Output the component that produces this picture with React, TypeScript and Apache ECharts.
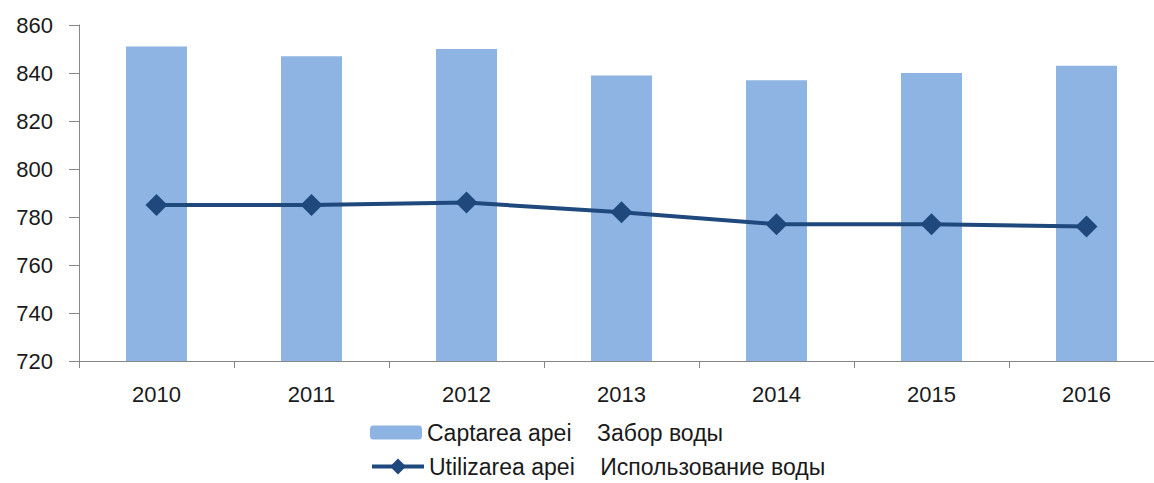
import React, { useEffect, useRef } from "react";
import * as echarts from "echarts";

const years = ["2010", "2011", "2012", "2013", "2014", "2015", "2016"];
const captarea = [851, 847, 850, 839, 837, 840, 843];
const utilizarea = [785, 785, 786, 782, 777, 777, 776];
const seriesNames = ["Captarea apei    Забор воды", "Utilizarea apei    Использование воды"];

export default function App() {
  const ref = useRef<HTMLDivElement>(null);
  useEffect(() => {
    if (!ref.current) return;
    const chart = echarts.init(ref.current, undefined, { renderer: "svg" });
    const font = "'Liberation Sans', Arial, sans-serif";
    const legendBase = {
      orient: "horizontal",
      left: 370,
      itemWidth: 52,
      itemHeight: 14,
      padding: 0,
      textStyle: { fontSize: 23, color: "#1a1a1a", fontFamily: font },
    };
    chart.setOption({
      animation: false,
      backgroundColor: "#ffffff",
      textStyle: { fontFamily: font },
      grid: { left: 79, top: 25, right: 6, height: 336, containLabel: false },
      legend: [
        { ...legendBase, top: 421, data: [seriesNames[0]] },
        {
          ...legendBase,
          top: 455,
          itemHeight: 20,
          lineStyle: { width: 4 },
          data: [seriesNames[1]],
        },
      ],
      xAxis: {
        type: "category",
        data: years,
        axisLine: { lineStyle: { color: "#868686", width: 1 } },
        axisTick: { show: true, length: 7, lineStyle: { color: "#868686" } },
        axisLabel: { fontSize: 22, color: "#1a1a1a", margin: 22, fontFamily: font },
        splitLine: { show: false },
      },
      yAxis: {
        type: "value",
        min: 720,
        max: 860,
        interval: 20,
        axisLine: { show: true, lineStyle: { color: "#868686", width: 1 } },
        axisTick: { show: true, length: 10, lineStyle: { color: "#868686" } },
        axisLabel: { fontSize: 22, color: "#1a1a1a", margin: 26, fontFamily: font },
        splitLine: { show: false },
      },
      series: [
        {
          name: seriesNames[0],
          type: "bar",
          data: captarea,
          barWidth: 61,
          itemStyle: { color: "#8EB4E3" },
        },
        {
          name: seriesNames[1],
          type: "line",
          data: utilizarea,
          symbol: "diamond",
          symbolSize: [22, 22],
          lineStyle: { color: "#1F497D", width: 4 },
          itemStyle: { color: "#1F497D" },
        },
      ],
    });
    return () => chart.dispose();
  }, []);
  return (
    <div
      style={{ position: "fixed", left: 0, top: 0, width: 1154, height: 483, overflow: "hidden", background: "#fff" }}
    >
      <div ref={ref} style={{ position: "absolute", left: 0, top: 0, width: 1170, height: 483 }} />
    </div>
  );
}
